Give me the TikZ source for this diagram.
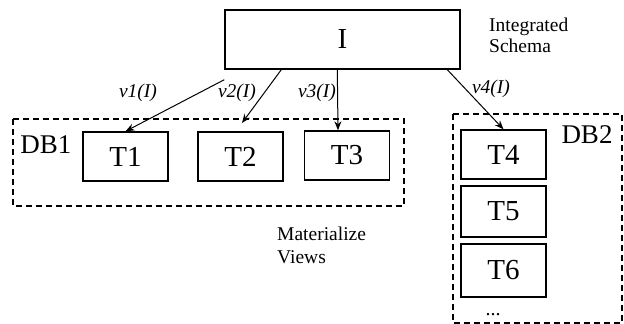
\documentclass[tikz,border=0pt]{standalone}
\usepackage{fontspec}
\setmainfont{Liberation Serif}
\usetikzlibrary{arrows.meta,calc}
\begin{document}
\begin{tikzpicture}[x=1pt,y=-1pt,
  tbl/.style={draw,line width=1.4pt,minimum width=85pt,minimum height=49pt,inner sep=0pt,font=\fontsize{29}{30}\selectfont},
  dbgroup/.style={draw,line width=1.1pt,dash pattern=on 6pt off 4pt},
  dblabel/.style={font=\fontsize{27}{29}\selectfont,inner sep=0pt},
  viewarrow/.style={draw,line width=1pt,-{Stealth[length=9pt,width=7pt]}},
  vlabel/.style={font=\fontsize{19.5}{21}\selectfont\itshape,inner sep=0pt},
  note/.style={font=\fontsize{19.5}{21}\selectfont,align=left,inner sep=0pt,anchor=west}]
\useasboundingbox (0,0) rectangle (624,324);

% database groupings
\draw[dbgroup] (13,119) rectangle (404,206);
\draw[dbgroup] (453,114) rectangle (622,323);

% integrated schema
\node[draw,line width=1.4pt,minimum width=235pt,minimum height=59pt,font=\fontsize{29}{30}\selectfont] (I) at (342.5,39.5) {I};
\node[note] (schema) at (489,35.5) {Integrated\\Schema};

% tables
\node[tbl] (T1) at (125.5,156.5) {T1};
\node[tbl] (T2) at (240.5,156.5) {T2};
\node[tbl] (T3) at (347,155.5) {T3};
\node[tbl] (T4) at (503.5,154.5) {T4};
\node[tbl,minimum height=51pt] (T5) at (503.5,211.5) {T5};
\node[tbl,minimum height=53pt] (T6) at (503.5,270.5) {T6};
\node[font=\fontsize{20}{22}\selectfont,inner sep=0pt] (more) at (493,315) {...};

\node[dblabel] (db1) at (46,145) {DB1};
\node[dblabel] (db2) at (587,135) {DB2};
\node[note,font=\fontsize{19.5}{23}\selectfont] (mat) at (277,245.5) {Materialize\\Views};

% view definitions
\coordinate (v1s) at ($(I.south west)+(0,10)$);
\coordinate (v2s) at ($(I.south west)+(57,0)$);
\coordinate (v2e) at (242,123);
\coordinate (v3s) at ($(I.south west)+(113,0)$);
\coordinate (v3e) at ($(T3.north)+(-9,0)$);
\coordinate (v4s) at ($(I.south west)+(223,0)$);
\draw[viewarrow] (v1s) -- (T1.north);
\draw[viewarrow] (v2s) -- (v2e);
\draw[viewarrow] (v3s) -- (v3e);
\draw[viewarrow] (v4s) -- (T4.north);

\node[vlabel] (l1) at (138,93) {v1(I)};
\node[vlabel] (l2) at (237,93) {v2(I)};
\node[vlabel] (l3) at (317,93) {v3(I)};
\node[vlabel] (l4) at (491,89) {v4(I)};
\end{tikzpicture}
\end{document}
